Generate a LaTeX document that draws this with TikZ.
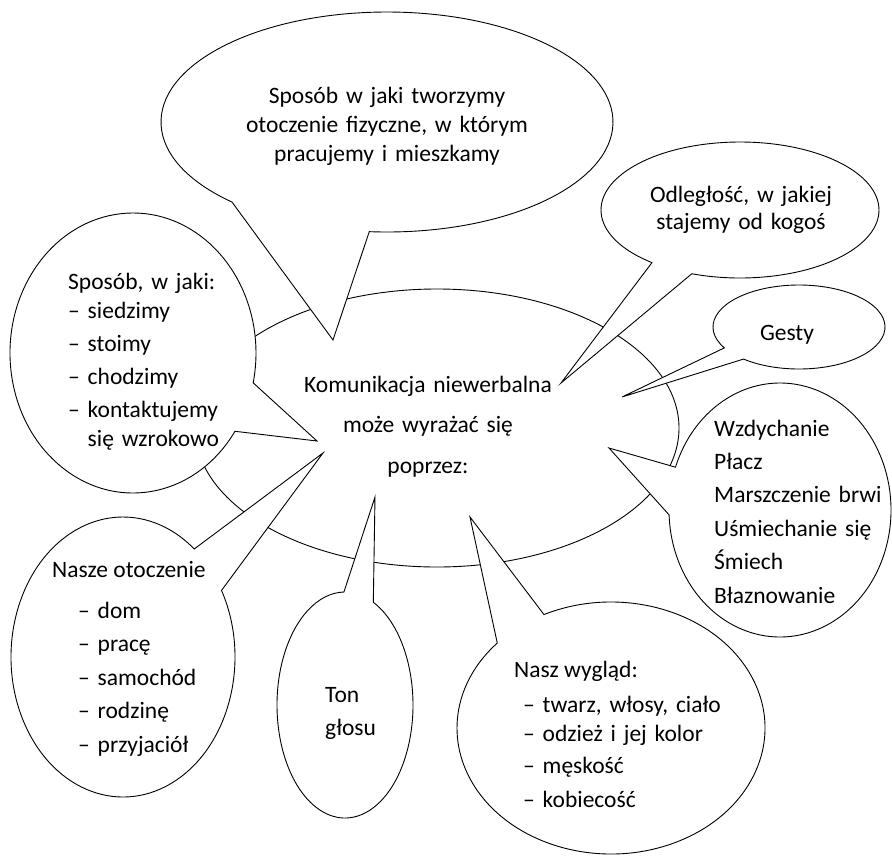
\documentclass[tikz,border=0pt]{standalone}
\usepackage{fontspec}
\setmainfont{Carlito}
\usetikzlibrary{calc}
\begin{document}
\begin{tikzpicture}[x=1pt,y=-1pt,
  bub/.style={draw=black, fill=white, line width=0.9pt},
  txt/.style={inner sep=0pt, font=\fontsize{23.5}{#1}\selectfont},
  txt/.default=33]
\useasboundingbox (0,0) rectangle (892,855);
% central ellipse
\coordinate (Zc) at (437,428);
\draw[bub] (Zc) ellipse[x radius=242, y radius=139];
% A: top bubble
\coordinate (Ac) at (387,122);
\coordinate (At) at (333,340);
\draw[bub] (At) -- ($(Ac)+(133.3:226 and 110)$) arc[start angle=133.3, end angle=454.5, x radius=226, y radius=110] -- cycle;
% B: Odleglosc
\coordinate (Bc) at (740,210);
\coordinate (Bt) at (561,383);
\draw[bub] (Bt) -- ($(Bc)+(129.3:139 and 68)$) arc[start angle=129.3, end angle=470.3, x radius=139, y radius=68] -- cycle;
% C: Gesty
\coordinate (Cc) at (799,327);
\coordinate (Ct) at (622,397);
\draw[bub] (Ct) -- ($(Cc)+(150.2:86 and 42)$) arc[start angle=150.2, end angle=490.2, x radius=86, y radius=42] -- cycle;
% D: Sposob, w jaki
\coordinate (Dc) at (133,353);
\coordinate (Dt) at (317,441);
\draw[bub] (Dt) -- ($(Dc)+(34:123 and 140)$) arc[start angle=34, end angle=372.3, x radius=123, y radius=140] -- cycle;
% E: Nasze otoczenie
\coordinate (Ec) at (123,657);
\coordinate (Et) at (323,453);
\draw[bub] (Et) -- ($(Ec)+(-28.4:112 and 140)$) arc[start angle=-28.4, end angle=309.5, x radius=112, y radius=140] -- cycle;
% F: Ton glosu
\coordinate (Fc) at (345,705);
\coordinate (Ft) at (375,497);
\draw[bub] (Ft) -- ($(Fc)+(-65.4:68 and 113)$) arc[start angle=-65.4, end angle=269.1, x radius=68, y radius=113] -- cycle;
% G: Nasz wyglad
\coordinate (Gc) at (611,728);
\coordinate (Gt) at (470,517);
\draw[bub] (Gt) -- ($(Gc)+(244.2:154 and 126)$) arc[start angle=244.2, end angle=582.4, x radius=154, y radius=126] -- cycle;
% H: Wzdychanie
\coordinate (Hc) at (780,510);
\coordinate (Ht) at (609,448);
\draw[bub] (Ht) -- ($(Hc)+(199.7:111 and 127)$) arc[start angle=199.7, end angle=537.8, x radius=111, y radius=127] -- cycle;
% texts
\node[txt=29, text width=330pt, align=center, anchor=base] (tA) at (387,103)
  {Sposób w jaki tworzymy\\otoczenie fizyczne, w którym\\pracujemy i mieszkamy};
\node[txt=40.5, text width=300pt, align=center, anchor=base] (tZ) at (428,392)
  {Komunikacja niewerbalna\\może wyrażać się\\poprzez:};
\node[txt=27.5, text width=230pt, align=center, anchor=base] (tB) at (741,202)
  {Odległość, w jakiej\\stajemy od kogoś};
\node[txt, anchor=base] (tC) at (787,340) {Gesty};
\node[txt=33.3, text width=220pt, align=left, anchor=base west] (tD) at (68,289)
  {Sposób, w jaki:\\[-4.3pt]– siedzimy\\– stoimy\\– chodzimy\\– kontaktujemy\\[-4.3pt]\phantom{– }się wzrokowo};
\node[txt, anchor=base west] (tE) at (52,577) {Nasze otoczenie};
\node[txt=33.6, text width=200pt, align=left, anchor=base west] (tE2) at (78,618)
  {– dom\\– pracę\\– samochód\\– rodzinę\\– przyjaciół};
\node[txt=33, text width=150pt, align=left, anchor=base west] (tF) at (325,702)
  {Ton\\głosu};
\node[txt, anchor=base west] (tG) at (514,677) {Nasz wygląd:};
\node[txt=32, text width=250pt, align=left, anchor=base west] (tG2) at (523,712)
  {– twarz, włosy, ciało\\[-3pt]– odzież i jej kolor\\– męskość\\[2pt]– kobiecość};
\node[txt=33.4, text width=200pt, align=left, anchor=base west] (tH) at (714,436)
  {Wzdychanie\\Płacz\\Marszczenie brwi\\Uśmiechanie się\\Śmiech\\Błaznowanie};
\end{tikzpicture}
\end{document}
